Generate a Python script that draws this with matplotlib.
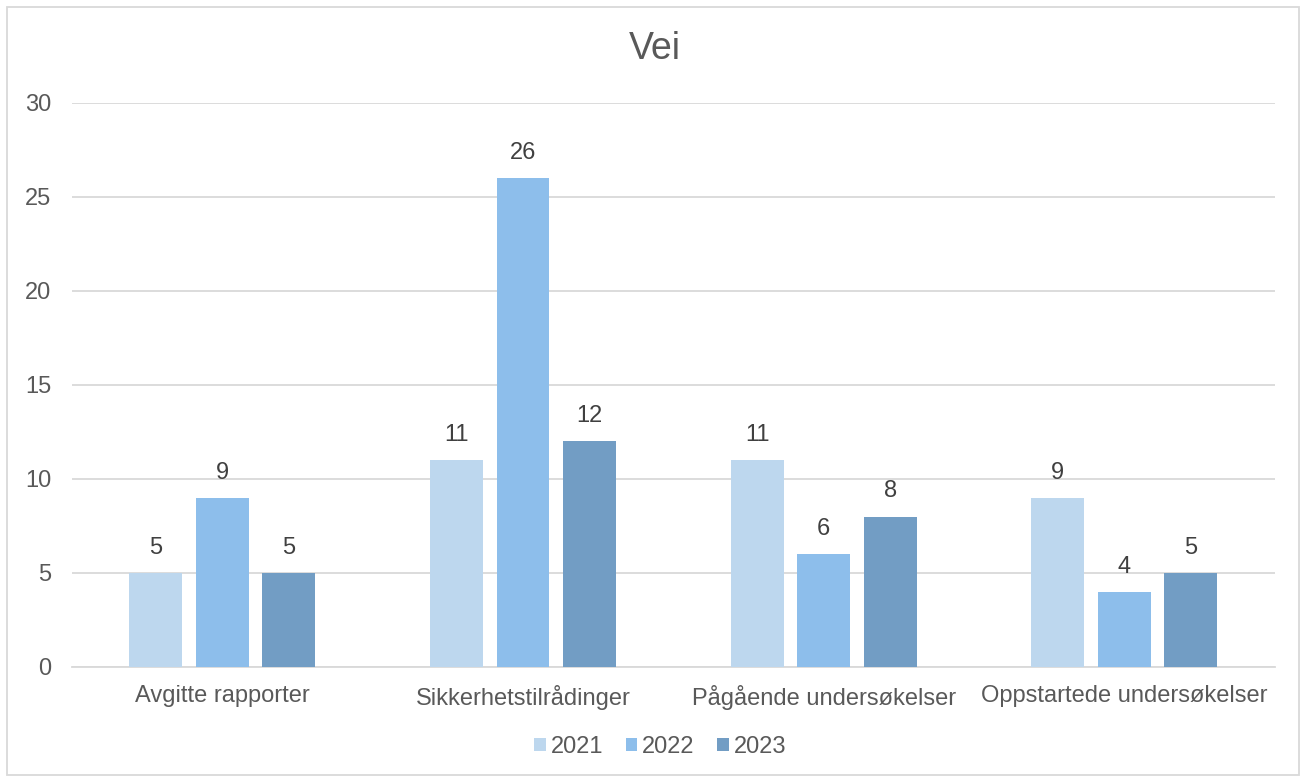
import numpy as np
import matplotlib.pyplot as plt

plt.rcParams['font.family'] = ['Liberation Sans', 'DejaVu Sans']

categories = ['Avgitte rapporter', 'Sikkerhetstilrådinger',
              'Pågående undersøkelser', 'Oppstartede undersøkelser']
years = ['2021', '2022', '2023']
v2021 = [5, 11, 11, 9]
v2022 = [9, 26, 6, 4]
v2023 = [5, 12, 8, 5]
series = [v2021, v2022, v2023]
colors = ['#BDD7EE', '#8DBEEB', '#729DC4']

fig = plt.figure(figsize=(13.02, 7.79), dpi=100)
ax = fig.add_axes([0.0553, 0.1438, 0.9237, 0.724])

x = np.arange(len(categories))
width = 0.176
step = 0.221
for i, (vals, yr, col) in enumerate(zip(series, years, colors)):
    pos = x + (i - 1) * step
    bars = ax.bar(pos, vals, width, color=col, label=yr, zorder=3)
    for b, v in zip(bars, vals):
        ax.text(b.get_x() + b.get_width() / 2, v + 0.75, str(v),
                ha='center', va='bottom', fontsize=17, color='#404040')

ax.set_xlim(-0.5, len(categories) - 0.5)
ax.set_ylim(0, 30)
ax.set_yticks(range(0, 31, 5))
ax.set_xticks(x)
ax.set_xticklabels(categories)
ax.yaxis.grid(True, color='#D9D9D9', linewidth=1.3, zorder=0)
ax.tick_params(axis='both', length=0, labelsize=17, labelcolor='#595959')
ax.tick_params(axis='y', pad=15)
ax.tick_params(axis='x', pad=13)
for s in ['top', 'right', 'left']:
    ax.spines[s].set_visible(False)
ax.spines['bottom'].set_color('#D9D9D9')
ax.spines['bottom'].set_linewidth(1.3)

fig.text(0.503, 0.937, 'Vei', ha='center', va='center', fontsize=27, color='#595959')

leg = fig.legend(loc='center', bbox_to_anchor=(0.507, 0.041), ncol=3, frameon=False,
                 fontsize=17, handlelength=0.5, handleheight=0.5, handletextpad=0.2,
                 columnspacing=0.95)
for t in leg.get_texts():
    t.set_color('#595959')

# outer chart border
fig.patches.append(plt.Rectangle((0.005, 0.005), 0.993, 0.986, transform=fig.transFigure,
                                 fill=False, edgecolor='#D9D9D9', linewidth=1.3))

fig.savefig('out.png', dpi=100)
